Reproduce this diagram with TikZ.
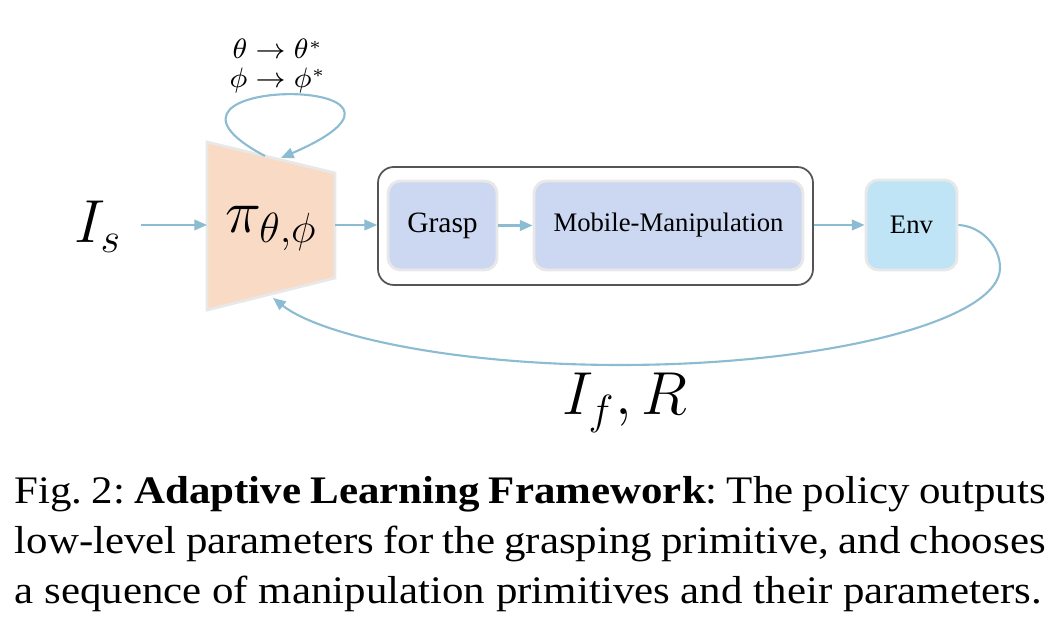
\documentclass[tikz,border=0pt]{standalone}
\definecolor{flowblue}{RGB}{140, 188, 210}
\definecolor{peach}{RGB}{249, 218, 196}
\definecolor{primblue}{RGB}{204, 216, 242}
\definecolor{envblue}{RGB}{190, 228, 246}
\definecolor{paleedge}{RGB}{232, 232, 232}
\definecolor{groupedge}{RGB}{85, 85, 85}
\usepackage{fontspec}
\setmainfont{Liberation Serif}
\newfontfamily\capfont{Liberation Serif}[FakeStretch=1.1]
\usepackage{tikz}
\usetikzlibrary{arrows.meta, positioning, calc}

\begin{document}
\begin{tikzpicture}[
  flow/.style={draw=flowblue, line width=0.6pt, -{Triangle[length=3.6pt, width=3pt]}},
  prim/.style={draw=paleedge, line width=0.8pt, rounded corners=3.5pt, minimum height=0.89cm, font=\fontsize{7.6}{9}\selectfont},
  bigmath/.style={font=\fontsize{17.5}{20}\selectfont}
]
  \useasboundingbox (0,0) rectangle (10.62,-6.42);

  % policy trapezoid
  \filldraw[fill=peach, draw=paleedge, line width=0.8pt]
    (2.07,-1.42) -- (3.35,-1.73) -- (3.35,-2.78) -- (2.07,-3.10) -- cycle;
  \coordinate (pin) at (2.07,-2.25);
  \coordinate (pout) at (3.35,-2.25);
  \coordinate (loopout) at (2.65,-1.56);
  \coordinate (loopin) at (2.81,-1.58);
  \coordinate (fbin) at (2.73,-2.98);
  \node[bigmath, anchor=base west, inner sep=0] (policy) at (2.25,-2.33) {$\pi_{\theta,\phi}$};

  \node[bigmath, anchor=base, font=\fontsize{18.5}{20}\selectfont] (Is) at (0.98,-2.43) {$I_s$};
  \node[align=center, inner sep=1pt, font=\fontsize{7.6}{8}\selectfont] (update) at (2.78,-0.66)
    {$\theta \rightarrow \theta^*$\\ $\phi \rightarrow \phi^*$};

  % primitives
  \node[draw=groupedge, line width=0.5pt, rounded corners=4.5pt, minimum width=4.35cm, minimum height=1.18cm] (prims) at (5.955,-2.26) {};
  \node[prim, fill=primblue, minimum width=1.09cm, font=\fontsize{8.4}{9}\selectfont] (grasp) at (4.425,-2.255) {Grasp};
  \node[prim, fill=primblue, minimum width=2.69cm] (mobman) at (6.685,-2.255) {Mobile-Manipulation};
  \node[prim, fill=envblue, minimum width=0.91cm, minimum height=0.90cm] (env) at (9.115,-2.25) {Env};

  \draw[flow, shorten <=2pt] (Is.east |- pin) -- (pin);
  \draw[flow] (pout) -- (prims.west |- pout);
  \draw[flow] (grasp.east) -- (mobman.west);
  \draw[flow] (prims.east |- env.west) -- (env.west);
  \draw[flow] (loopout) .. controls (1.10,-0.74) and (4.75,-0.74) .. (loopin);
  \draw[flow] (env.east) .. controls (9.80,-2.26) and (10.0,-2.45) .. (10.0,-2.68)
    .. controls (10.0,-3.20) and (8.30,-3.65) .. (6.20,-3.65)
    .. controls (4.50,-3.65) and (3.20,-3.35) .. (fbin);
  \node[bigmath, anchor=base] (obs) at (6.25,-4.15) {$I_f, R$};

  \node[anchor=north west, inner sep=0, text width=10.31cm, align=justify, font=\capfont\fontsize{11.1}{14.2}\selectfont\frenchspacing] (caption) at (0.14,-4.76)
    {\parfillskip=0pt Fig. 2: \textbf{Adaptive Learning Framework}: The policy outputs\linebreak
     low-level parameters for the grasping primitive, and chooses\linebreak
     a sequence of manipulation primitives and their parameters.};
\end{tikzpicture}
\end{document}
